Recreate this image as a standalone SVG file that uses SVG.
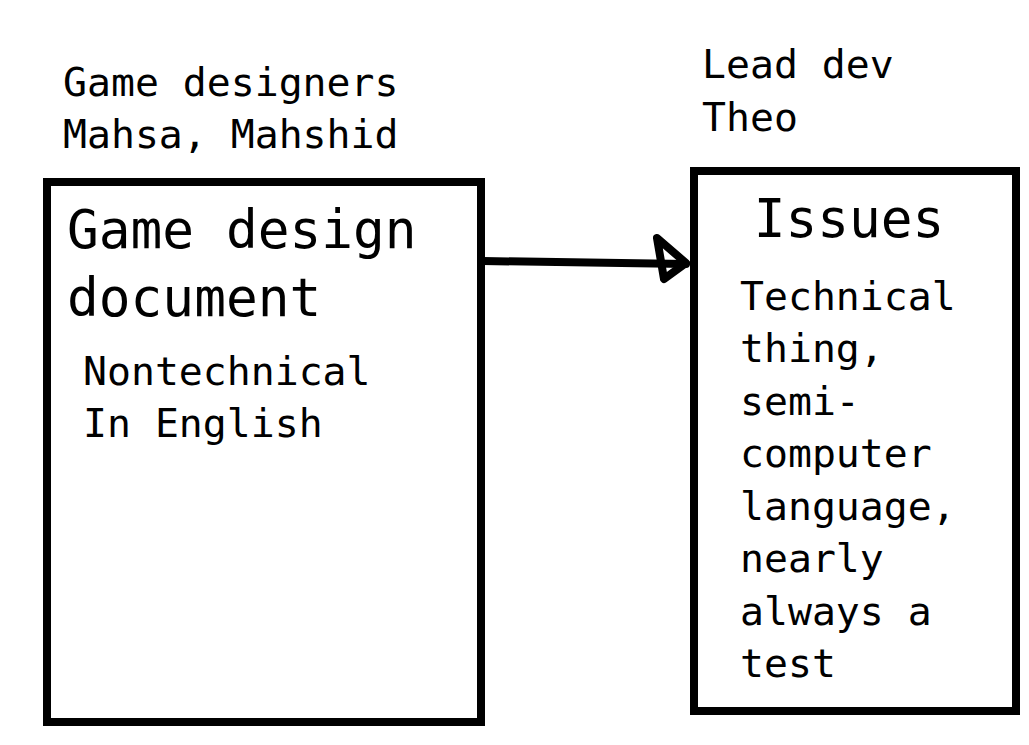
<svg xmlns="http://www.w3.org/2000/svg" width="1029" height="745" viewBox="0 0 1029 745">
<style>
text{font-family:"DejaVu Sans Mono","Liberation Mono",monospace;fill:#000}
.m{font-size:39.8px}
.l{font-size:52.8px}
.box{fill:#fff;stroke:#000;stroke-width:8}
.con{fill:none;stroke:#000;stroke-width:8;stroke-linecap:round;stroke-linejoin:round}
</style>
<rect width="1029" height="745" fill="#fff"/>
<g id="label-designers">
<text class="m" x="63" y="96">Game designers</text>
<text class="m" x="63" y="148">Mahsa, Mahshid</text>
</g>
<g id="label-lead">
<text class="m" x="702" y="78">Lead dev</text>
<text class="m" x="702" y="131">Theo</text>
</g>
<g id="node-gdd">
<rect class="box" x="47" y="182" width="434" height="540"/>
<text class="l" x="67" y="248">Game design</text>
<text class="l" x="67" y="316">document</text>
<text class="m" x="83" y="385">Nontechnical</text>
<text class="m" x="83" y="437">In English</text>
</g>
<g id="node-issues">
<rect class="box" x="694" y="171" width="322" height="540"/>
<text class="l" x="849" y="237" text-anchor="middle">Issues</text>
<text class="m" x="740" y="310">Technical</text>
<text class="m" x="740" y="362">thing,</text>
<text class="m" x="740" y="415">semi-</text>
<text class="m" x="740" y="467">computer</text>
<text class="m" x="740" y="520">language,</text>
<text class="m" x="740" y="572">nearly</text>
<text class="m" x="740" y="625">always a</text>
<text class="m" x="740" y="677">test</text>
</g>
<g id="connectors">
<path class="con" d="M483,261 L686,264"/>
<path class="con" d="M657,238 L686,263 L664,279 Z"/>
</g>
</svg>
